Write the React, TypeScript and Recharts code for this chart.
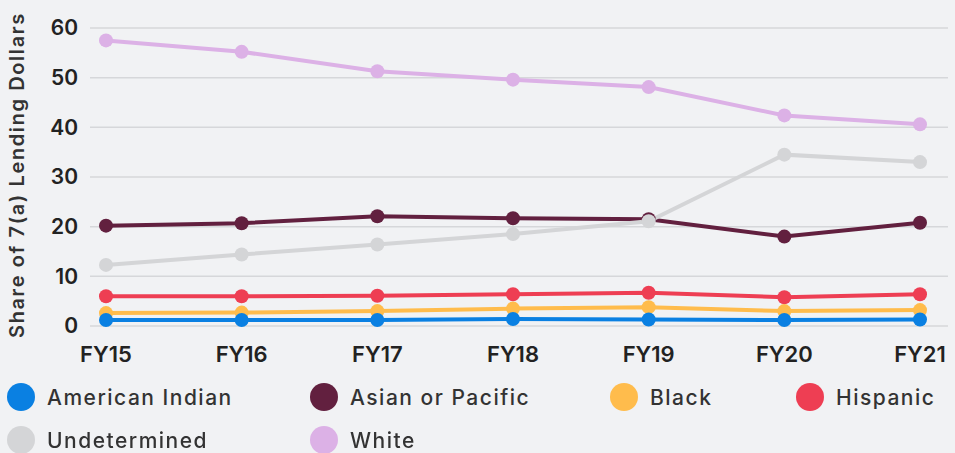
import { LineChart, Line, XAxis, YAxis, CartesianGrid } from "recharts";

// fiscal years on the x axis
const YEARS = ["FY15", "FY16", "FY17", "FY18", "FY19", "FY20", "FY21"];
const Y_TICKS = [0, 10, 20, 30, 40, 50, 60];

// share of 7(a) lending dollars, in percent
const AMERICAN_INDIAN = [1.2, 1.2, 1.2, 1.4, 1.3, 1.2, 1.3];
const ASIAN_PACIFIC = [20.2, 20.7, 22.1, 21.7, 21.5, 18.0, 20.8];
const BLACK = [2.6, 2.7, 3.0, 3.5, 3.8, 3.0, 3.2];
const HISPANIC = [6.0, 6.0, 6.1, 6.4, 6.7, 5.8, 6.4];
const UNDETERMINED = [12.3, 14.4, 16.4, 18.5, 21.1, 34.5, 33.0];
const WHITE = [57.5, 55.2, 51.3, 49.6, 48.1, 42.4, 40.6];

const SERIES = [
  { key: "ai", name: "American Indian", color: "#0a80e2", values: AMERICAN_INDIAN },
  { key: "ap", name: "Asian or Pacific", color: "#62203f", values: ASIAN_PACIFIC },
  { key: "bl", name: "Black", color: "#ffbc4c", values: BLACK },
  { key: "hi", name: "Hispanic", color: "#ee3e53", values: HISPANIC },
  { key: "un", name: "Undetermined", color: "#d4d5d7", values: UNDETERMINED },
  { key: "wh", name: "White", color: "#dcb1e6", values: WHITE },
];

// later entries are painted on top
const DRAW_ORDER = ["wh", "ap", "un", "hi", "bl", "ai"];

const data = YEARS.map((year, i) => {
  const row: Record<string, string | number> = { year };
  SERIES.forEach((s) => (row[s.key] = s.values[i]));
  return row;
});

const FONT = "Inter, 'Noto Sans', sans-serif";
const LEGEND_COLS = [7, 310, 610, 796];

export default function App() {
  return (
    <div
      style={{
        position: "fixed",
        top: 0,
        left: 0,
        width: 955,
        height: 453,
        background: "#f1f2f4",
        fontFamily: FONT,
      }}
    >
      <LineChart width={955} height={453} data={data} margin={{ top: 28, right: 7, left: 0, bottom: 87 }}>
        <CartesianGrid vertical={false} stroke="#d6d7da" strokeWidth={1.5} />
        <XAxis
          dataKey="year"
          axisLine={false}
          tickLine={false}
          tickSize={0}
          tickMargin={20}
          height={40}
          padding={{ left: 16, right: 28 }}
          interval={0}
          tick={{ fill: "#222", fontSize: 22, fontWeight: 600, fontFamily: FONT }}
        />
        <YAxis
          domain={[0, 60]}
          ticks={Y_TICKS}
          axisLine={false}
          tickLine={false}
          tickSize={0}
          tickMargin={12}
          width={90}
          tick={{ fill: "#222", fontSize: 21, fontWeight: 600, fontFamily: FONT }}
          label={{
            content: (props: any) => {
              const vb = props.viewBox || {};
              const cy = vb.y + vb.height / 2 - 2;
              return (
                <text
                  x={17}
                  y={cy}
                  transform={`rotate(-90, 17, ${cy})`}
                  textAnchor="middle"
                  dominantBaseline="central"
                  fill="#333"
                  fontSize={20}
                  fontWeight={600}
                  letterSpacing={1.6}
                  fontFamily={FONT}
                >
                  Share of 7(a) Lending Dollars
                </text>
              );
            },
          }}
        />
        {DRAW_ORDER.map((k) => {
          const s = SERIES.find((x) => x.key === k)!;
          return (
            <Line
              key={k}
              type="linear"
              dataKey={k}
              name={s.name}
              stroke={s.color}
              strokeWidth={4}
              dot={{ r: 7, fill: s.color, stroke: "none" }}
              activeDot={false}
              isAnimationActive={false}
            />
          );
        })}
      </LineChart>
      {SERIES.map((s, i) => (
        <div
          key={s.key}
          style={{
            position: "absolute",
            left: LEGEND_COLS[i % 4],
            top: i < 4 ? 383 : 426,
            display: "flex",
            alignItems: "center",
            height: 28,
          }}
        >
          <span
            style={{
              width: 28,
              height: 28,
              borderRadius: "50%",
              background: s.color,
              display: "inline-block",
              marginRight: 12,
            }}
          />
          <span style={{ fontSize: 21, fontWeight: 500, color: "#333", letterSpacing: 1.5 }}>{s.name}</span>
        </div>
      ))}
    </div>
  );
}
